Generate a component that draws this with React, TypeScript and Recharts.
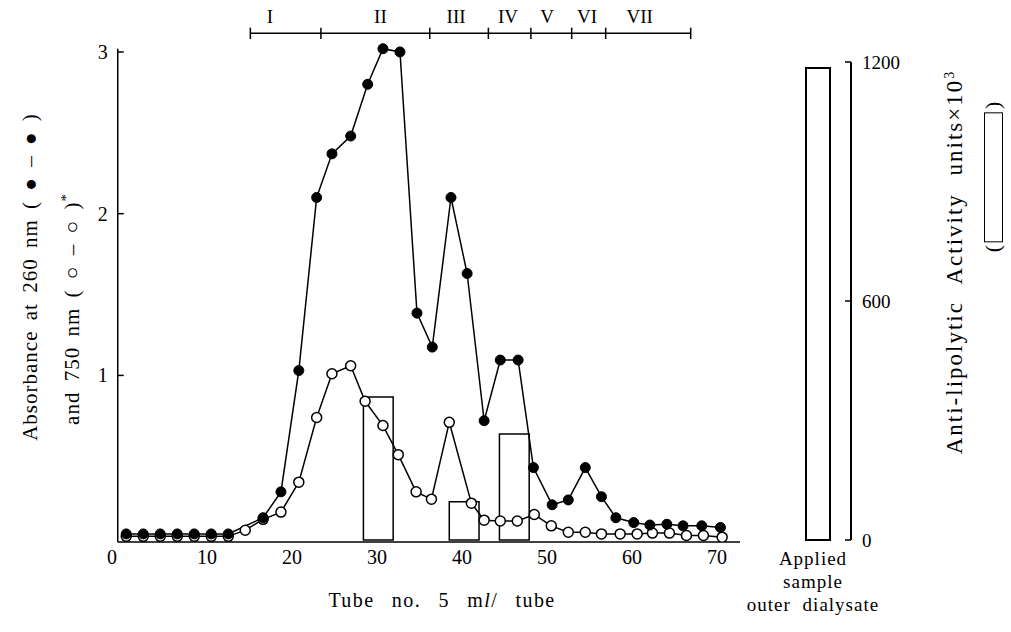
import { ComposedChart, BarChart, Bar, Line, XAxis, YAxis, ReferenceArea, ReferenceLine, ReferenceDot } from 'recharts';

const FONT = '"Liberation Serif", serif';

// absorbance at 260 nm (filled circles)
const tubes260 = [0.5, 2.5, 4.5, 6.5, 8.5, 10.5, 12.5, 16.6, 18.7, 20.8, 22.9, 24.7, 26.9, 28.9, 30.7, 32.7, 34.7, 36.5, 38.7, 40.6, 42.6, 44.5, 46.6, 48.4, 50.6, 52.5, 54.5, 56.4, 58.1, 60.2, 62.1, 64.1, 66, 68.2, 70.4];
const abs260 = [0.02, 0.02, 0.02, 0.02, 0.02, 0.02, 0.02, 0.12, 0.28, 1.03, 2.1, 2.37, 2.48, 2.8, 3.02, 3.0, 1.385, 1.175, 2.1, 1.63, 0.72, 1.095, 1.095, 0.43, 0.2, 0.23, 0.43, 0.25, 0.12, 0.09, 0.075, 0.08, 0.07, 0.07, 0.06];

// absorbance at 750 nm (open circles)
const tubes750 = [0.5, 2.5, 4.5, 6.5, 8.5, 10.5, 12.5, 14.5, 16.6, 18.7, 20.8, 22.9, 24.7, 26.9, 28.6, 30.7, 32.5, 34.6, 36.4, 38.5, 41.1, 42.6, 44.5, 46.5, 48.5, 50.5, 52.5, 54.5, 56.4, 58.6, 60.6, 62.4, 64.4, 66.4, 68.4, 70.6];
const abs750 = [0.005, 0.005, 0.005, 0.005, 0.005, 0.005, 0.005, 0.043, 0.11, 0.155, 0.34, 0.74, 1.01, 1.06, 0.84, 0.69, 0.51, 0.28, 0.235, 0.71, 0.21, 0.105, 0.1, 0.1, 0.14, 0.07, 0.03, 0.03, 0.02, 0.02, 0.02, 0.025, 0.025, 0.01, 0.01, 0.0];

// anti-lipolytic activity of pooled fractions (units x 10^3)
const poolStart = [28.4, 38.5, 44.4];
const poolEnd = [31.9, 42.0, 47.9];
const poolActivity = [359, 96, 266];

// fraction bracket on top
const bracketBounds = [15.1, 23.4, 36.2, 43.1, 48.1, 52.9, 56.9, 66.9];
const bracketNames = ['I', 'II', 'III', 'IV', 'V', 'VI', 'VII'];
const bracketLabelAt = [17.4, 30.4, 39.3, 45.4, 50, 54.7, 60.9];
const BRACKET_Y = 3.115;

const appliedNames = ['Applied sample outer dialysate'];
const appliedActivity = [1185];

const data260 = tubes260.map((t, i) => ({ t, v: abs260[i] }));
const data750 = tubes750.map((t, i) => ({ t, v: abs750[i] }));
const appliedData = appliedNames.map((name, i) => ({ name, value: appliedActivity[i] }));

function LeftTick({ x, y, payload }: any) {
  return (
    <g>
      <line x1={x + 8} x2={x + 14} y1={y} y2={y} stroke="#000" strokeWidth={1.5} />
      <text x={x - 2} y={y} dy="0.35em" textAnchor="end" fontSize={20} fontFamily={FONT} fill="#000">
        {payload.value}
      </text>
    </g>
  );
}

function RightTick({ x, y, payload }: any) {
  return (
    <g>
      <line x1={x - 8} x2={x - 14} y1={y} y2={y} stroke="#000" strokeWidth={1.5} />
      <text x={x + 3} y={y} dy="0.35em" textAnchor="start" fontSize={19} fontFamily={FONT} fill="#000">
        {payload.value}
      </text>
    </g>
  );
}

function BottomTick({ x, y, payload }: any) {
  // the "0" of the original is set a little left of its tube position
  const dx = payload.value === 0 ? -10 : 0;
  return (
    <text x={x + dx} y={y} dy="0.71em" textAnchor="middle" fontSize={20} fontFamily={FONT} fill="#000">
      {payload.value}
    </text>
  );
}

function AppliedTick({ x, y }: any) {
  return (
    <text x={x - 5} y={y} textAnchor="middle" fontSize={19} fontFamily={FONT} fill="#000" letterSpacing={1}>
      <tspan x={x - 5} dy="0.9em">Applied</tspan>
      <tspan x={x - 5} dy="1.2em">sample</tspan>
      <tspan x={x - 5} dy="1.2em" wordSpacing={6}>outer dialysate</tspan>
    </text>
  );
}

const rotated = (cx: number, cy: number): any => ({
  position: 'absolute',
  left: cx,
  top: cy,
  transform: 'translate(-50%, -50%) rotate(-90deg)',
  whiteSpace: 'nowrap',
  fontFamily: FONT,
  fontSize: 20,
  color: '#000',
});

export default function App() {
  return (
    <div style={{ position: 'absolute', left: 0, top: 0, width: 1011, height: 632, background: '#fff', overflow: 'hidden', fontFamily: FONT }}>
      <div style={{ position: 'absolute', left: 0, top: 0 }}>
        <ComposedChart width={745} height={632} margin={{ top: 19.6, right: 5, bottom: 60, left: 57.75 }}>
          <XAxis
            type="number"
            dataKey="t"
            domain={[-0.5, 72.7]}
            ticks={[0, 10, 20, 30, 40, 50, 60, 70]}
            allowDataOverflow
            tickLine={false}
            axisLine={{ stroke: '#000', strokeWidth: 1.5 }}
            height={30}
            tick={<BottomTick />}
          />
          <YAxis
            yAxisId="abs"
            type="number"
            domain={[-0.03, 3.2]}
            ticks={[1, 2, 3]}
            allowDataOverflow
            axisLine={false}
            tickLine={false}
            width={60}
            tick={<LeftTick />}
          />
          <YAxis yAxisId="act" orientation="right" hide type="number" domain={[-5, 1306]} allowDataOverflow />

          {poolActivity.map((v, i) => (
            <ReferenceArea
              key={'pool' + i}
              yAxisId="act"
              x1={poolStart[i]}
              x2={poolEnd[i]}
              y1={0}
              y2={v}
              fill="#fff"
              fillOpacity={0}
              stroke="#000"
              strokeWidth={1.5}
              ifOverflow="visible"
            />
          ))}

          <ReferenceLine
            yAxisId="abs"
            segment={[{ x: -0.5, y: -0.03 }, { x: -0.5, y: 3.02 }]}
            stroke="#000"
            strokeWidth={1.5}
          />
          <ReferenceLine
            yAxisId="abs"
            segment={[{ x: bracketBounds[0], y: BRACKET_Y }, { x: bracketBounds[bracketBounds.length - 1], y: BRACKET_Y }]}
            stroke="#000"
            strokeWidth={1.5}
          />
          {bracketBounds.map((b, i) => (
            <ReferenceLine
              key={'bb' + i}
              yAxisId="abs"
              segment={[{ x: b, y: BRACKET_Y - 0.035 }, { x: b, y: BRACKET_Y + 0.035 }]}
              stroke="#000"
              strokeWidth={1.5}
            />
          ))}
          {bracketNames.map((n, i) => (
            <ReferenceDot
              key={'bn' + i}
              yAxisId="abs"
              x={bracketLabelAt[i]}
              y={BRACKET_Y}
              r={0}
              fill="none"
              stroke="none"
              label={{ value: n, position: 'top', offset: 10, fontSize: 19, fontFamily: FONT, fill: '#000' }}
            />
          ))}

          <Line
            yAxisId="abs"
            data={data750}
            dataKey="v"
            type="linear"
            stroke="#000"
            strokeWidth={1.5}
            dot={{ r: 5, fill: '#fff', stroke: '#000', strokeWidth: 1.5 }}
            activeDot={false}
            isAnimationActive={false}
          />
          <Line
            yAxisId="abs"
            data={data260}
            dataKey="v"
            type="linear"
            stroke="#000"
            strokeWidth={1.5}
            dot={{ r: 5, fill: '#000', stroke: '#000', strokeWidth: 1 }}
            activeDot={false}
            isAnimationActive={false}
          />
        </ComposedChart>
      </div>

      <div style={{ position: 'absolute', left: 745, top: 0 }}>
        <BarChart width={266} height={632} data={appliedData} margin={{ top: 62, right: 115, bottom: 22, left: 40 }}>
          <XAxis dataKey="name" axisLine={false} tickLine={false} height={70} interval={0} tick={<AppliedTick />} />
          <YAxis
            orientation="right"
            type="number"
            domain={[0, 1200]}
            ticks={[0, 600, 1200]}
            width={45}
            axisLine={{ stroke: '#000', strokeWidth: 2 }}
            tickLine={false}
            tick={<RightTick />}
          />
          <Bar dataKey="value" barSize={24} fill="#fff" stroke="#000" strokeWidth={2} isAnimationActive={false} />
        </BarChart>
      </div>

      <div style={{ ...rotated(30, 277), fontSize: 21, letterSpacing: 1, wordSpacing: 4 }}>Absorbance at 260 nm ( ● – ● )</div>
      <div style={{ ...rotated(71, 309), fontSize: 21, letterSpacing: 1, wordSpacing: 4 }}>
        and 750 nm ( ○ – ○ )<sup style={{ fontSize: 15 }}>*</sup>
      </div>
      <div style={{ position: 'absolute', left: 442, top: 600, transform: 'translate(-50%, -50%)', whiteSpace: 'nowrap', fontFamily: FONT, fontSize: 20, letterSpacing: 1.4, wordSpacing: 11 }}>
        Tube no. 5 m<i>l</i>/ tube
      </div>
      <div style={{ ...rotated(955, 262), fontSize: 23, letterSpacing: 2, wordSpacing: 10 }}>
        Anti-lipolytic Activity units×10<sup style={{ fontSize: 14 }}>3</sup>
      </div>
      <div style={{ ...rotated(993, 177), fontSize: 22, display: 'flex', alignItems: 'center', gap: 3 }}>
        <span>(</span>
        <span style={{ display: 'inline-block', width: 128, height: 17, border: '1.5px solid #000' }} />
        <span>)</span>
      </div>
    </div>
  );
}
